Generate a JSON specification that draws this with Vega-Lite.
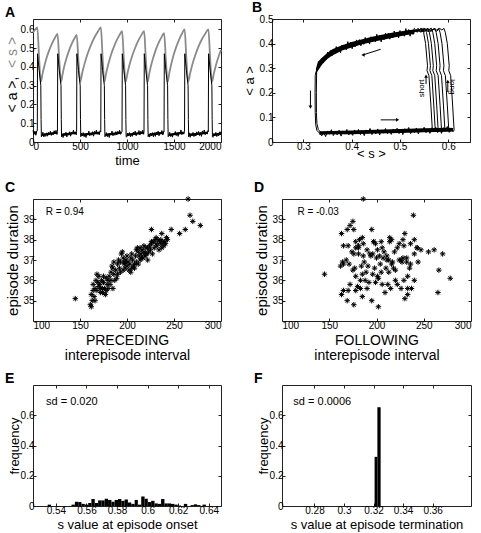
{
"$schema": "https://vega.github.io/schema/vega-lite/v6.json",
"padding": {"left": 4, "top": 0, "right": 4, "bottom": 4},
"background": "white",
"config": {
 "font": "Liberation Sans",
 "view": {"stroke": "#222", "strokeWidth": 1},
 "axis": {"domain": false, "grid": false, "ticks": true, "tickSize": -3, "tickColor": "#222", "tickWidth": 1, "labelFontSize": 10, "labelColor": "black", "labelPadding": 2, "titleFontSize": 13, "titleFontWeight": "normal", "titleColor": "black", "titlePadding": 3},
 "title": {"fontSize": 14, "fontWeight": "bold", "anchor": "start", "frame": "group", "dx": -28, "dy": 5, "offset": 0, "baseline": "alphabetic", "color": "black"}
},
"datasets": {
 "As": [{"t":0,"v":0.583},{"t":23,"v":0.598},{"t":46,"v":0.61},{"t":64,"v":0.455},{"t":83,"v":0.32},{"t":101,"v":0.363},{"t":119,"v":0.401},{"t":145,"v":0.449},{"t":172,"v":0.488},{"t":208,"v":0.53},{"t":234,"v":0.555},{"t":261,"v":0.575},{"t":279,"v":0.437},{"t":298,"v":0.32},{"t":315,"v":0.362},{"t":331,"v":0.4},{"t":357,"v":0.447},{"t":382,"v":0.485},{"t":415,"v":0.526},{"t":440,"v":0.551},{"t":465,"v":0.57},{"t":483,"v":0.435},{"t":502,"v":0.32},{"t":524,"v":0.369},{"t":546,"v":0.412},{"t":579,"v":0.467},{"t":612,"v":0.511},{"t":656,"v":0.559},{"t":689,"v":0.587},{"t":722,"v":0.61},{"t":740,"v":0.455},{"t":759,"v":0.32},{"t":778,"v":0.366},{"t":797,"v":0.406},{"t":825,"v":0.457},{"t":854,"v":0.498},{"t":891,"v":0.542},{"t":920,"v":0.569},{"t":948,"v":0.59},{"t":966,"v":0.445},{"t":985,"v":0.32},{"t":1005,"v":0.366},{"t":1024,"v":0.406},{"t":1054,"v":0.457},{"t":1084,"v":0.498},{"t":1123,"v":0.542},{"t":1152,"v":0.569},{"t":1182,"v":0.59},{"t":1200,"v":0.445},{"t":1219,"v":0.32},{"t":1237,"v":0.364},{"t":1254,"v":0.403},{"t":1281,"v":0.452},{"t":1307,"v":0.492},{"t":1342,"v":0.534},{"t":1369,"v":0.56},{"t":1395,"v":0.58},{"t":1413,"v":0.44},{"t":1432,"v":0.32},{"t":1450,"v":0.367},{"t":1468,"v":0.409},{"t":1495,"v":0.462},{"t":1523,"v":0.505},{"t":1559,"v":0.551},{"t":1586,"v":0.578},{"t":1613,"v":0.6},{"t":1631,"v":0.45},{"t":1650,"v":0.32},{"t":1672,"v":0.367},{"t":1693,"v":0.409},{"t":1726,"v":0.462},{"t":1758,"v":0.505},{"t":1801,"v":0.551},{"t":1834,"v":0.578},{"t":1866,"v":0.6},{"t":1884,"v":0.45},{"t":1903,"v":0.32},{"t":1925,"v":0.367},{"t":1946,"v":0.409},{"t":1979,"v":0.462},{"t":2000,"v":0.49}],
 "Ab": [{"t":0,"lo":0.044,"hi":0.056,"p":0},{"t":40,"lo":0.044,"hi":0.056,"p":0},{"t":95,"lo":0.032,"hi":0.044,"p":1},{"t":255,"lo":0.044,"hi":0.056,"p":1},{"t":310,"lo":0.032,"hi":0.044,"p":2},{"t":460,"lo":0.044,"hi":0.056,"p":2},{"t":514,"lo":0.032,"hi":0.044,"p":3},{"t":714,"lo":0.044,"hi":0.056,"p":3},{"t":771,"lo":0.032,"hi":0.044,"p":4},{"t":941,"lo":0.044,"hi":0.056,"p":4},{"t":997,"lo":0.032,"hi":0.044,"p":5},{"t":1177,"lo":0.044,"hi":0.056,"p":5},{"t":1231,"lo":0.032,"hi":0.044,"p":6},{"t":1391,"lo":0.044,"hi":0.056,"p":6},{"t":1444,"lo":0.032,"hi":0.044,"p":7},{"t":1604,"lo":0.044,"hi":0.056,"p":7},{"t":1662,"lo":0.032,"hi":0.044,"p":8},{"t":1862,"lo":0.044,"hi":0.056,"p":8},{"t":1915,"lo":0.032,"hi":0.044,"p":9},{"t":2000,"lo":0.038,"hi":0.05,"p":9}],
 "Aa": [{"t":0,"v":0.062},{"t":10,"v":0.040},{"t":20,"v":0.056},{"t":30,"v":0.036},{"t":40,"v":0.059},
 {"t":46,"v":0.06},{"t":48,"v":0.47},{"t":66,"v":0.38},{"t":83,"v":0.30},{"t":86,"v":0.12},{"t":89,"v":0.028},
 {"t":95,"v":0.034},{"t":105,"v":0.052},{"t":115,"v":0.027},{"t":125,"v":0.041},{"t":135,"v":0.030},{"t":145,"v":0.049},{"t":155,"v":0.031},{"t":165,"v":0.051},{"t":175,"v":0.038},{"t":185,"v":0.057},{"t":195,"v":0.035},{"t":205,"v":0.046},{"t":215,"v":0.038},{"t":225,"v":0.060},{"t":235,"v":0.045},{"t":245,"v":0.062},{"t":255,"v":0.040},
 {"t":260,"v":0.055},{"t":263,"v":0.47},{"t":280,"v":0.38},{"t":298,"v":0.30},{"t":301,"v":0.12},{"t":304,"v":0.028},
 {"t":310,"v":0.044},{"t":320,"v":0.024},{"t":330,"v":0.047},{"t":340,"v":0.034},{"t":350,"v":0.052},{"t":360,"v":0.027},{"t":370,"v":0.047},{"t":380,"v":0.036},{"t":390,"v":0.055},{"t":400,"v":0.031},{"t":410,"v":0.051},{"t":420,"v":0.044},{"t":430,"v":0.063},{"t":440,"v":0.041},{"t":450,"v":0.052},{"t":460,"v":0.038},
 {"t":464,"v":0.055},{"t":467,"v":0.47},{"t":484,"v":0.38},{"t":502,"v":0.30},{"t":505,"v":0.12},{"t":508,"v":0.028},
 {"t":514,"v":0.048},{"t":524,"v":0.033},{"t":534,"v":0.050},{"t":544,"v":0.028},{"t":554,"v":0.044},{"t":564,"v":0.024},{"t":574,"v":0.047},{"t":584,"v":0.040},{"t":594,"v":0.058},{"t":604,"v":0.033},{"t":614,"v":0.047},{"t":624,"v":0.036},{"t":634,"v":0.055},{"t":644,"v":0.031},{"t":654,"v":0.057},{"t":664,"v":0.044},{"t":674,"v":0.063},{"t":684,"v":0.041},{"t":694,"v":0.052},{"t":704,"v":0.038},{"t":714,"v":0.060},
 {"t":721,"v":0.055},{"t":724,"v":0.47},{"t":741,"v":0.38},{"t":759,"v":0.30},{"t":762,"v":0.12},{"t":765,"v":0.028},
 {"t":771,"v":0.033},{"t":781,"v":0.050},{"t":791,"v":0.028},{"t":801,"v":0.044},{"t":811,"v":0.024},{"t":821,"v":0.047},{"t":831,"v":0.040},{"t":841,"v":0.058},{"t":851,"v":0.033},{"t":861,"v":0.047},{"t":871,"v":0.036},{"t":881,"v":0.055},{"t":891,"v":0.037},{"t":901,"v":0.057},{"t":911,"v":0.044},{"t":921,"v":0.063},{"t":931,"v":0.041},{"t":941,"v":0.052},
 {"t":947,"v":0.055},{"t":950,"v":0.47},{"t":967,"v":0.38},{"t":985,"v":0.30},{"t":988,"v":0.12},{"t":991,"v":0.028},
 {"t":997,"v":0.026},{"t":1007,"v":0.048},{"t":1017,"v":0.033},{"t":1027,"v":0.050},{"t":1037,"v":0.028},{"t":1047,"v":0.044},{"t":1057,"v":0.030},{"t":1067,"v":0.053},{"t":1077,"v":0.040},{"t":1087,"v":0.058},{"t":1097,"v":0.033},{"t":1107,"v":0.047},{"t":1117,"v":0.042},{"t":1127,"v":0.061},{"t":1137,"v":0.037},{"t":1147,"v":0.057},{"t":1157,"v":0.044},{"t":1167,"v":0.063},{"t":1177,"v":0.041},
 {"t":1181,"v":0.055},{"t":1184,"v":0.47},{"t":1201,"v":0.38},{"t":1219,"v":0.30},{"t":1222,"v":0.12},{"t":1225,"v":0.028},
 {"t":1231,"v":0.040},{"t":1241,"v":0.026},{"t":1251,"v":0.048},{"t":1261,"v":0.033},{"t":1271,"v":0.050},{"t":1281,"v":0.028},{"t":1291,"v":0.050},{"t":1301,"v":0.030},{"t":1311,"v":0.053},{"t":1321,"v":0.040},{"t":1331,"v":0.058},{"t":1341,"v":0.033},{"t":1351,"v":0.053},{"t":1361,"v":0.042},{"t":1371,"v":0.061},{"t":1381,"v":0.037},{"t":1391,"v":0.057},
 {"t":1394,"v":0.055},{"t":1397,"v":0.47},{"t":1414,"v":0.38},{"t":1432,"v":0.30},{"t":1435,"v":0.12},{"t":1438,"v":0.028},
 {"t":1444,"v":0.032},{"t":1454,"v":0.051},{"t":1464,"v":0.029},{"t":1474,"v":0.040},{"t":1484,"v":0.026},{"t":1494,"v":0.048},{"t":1504,"v":0.039},{"t":1514,"v":0.056},{"t":1524,"v":0.034},{"t":1534,"v":0.050},{"t":1544,"v":0.030},{"t":1554,"v":0.053},{"t":1564,"v":0.046},{"t":1574,"v":0.064},{"t":1584,"v":0.039},{"t":1594,"v":0.053},{"t":1604,"v":0.042},
 {"t":1612,"v":0.055},{"t":1615,"v":0.47},{"t":1632,"v":0.38},{"t":1650,"v":0.30},{"t":1653,"v":0.12},{"t":1656,"v":0.028},
 {"t":1662,"v":0.049},{"t":1672,"v":0.025},{"t":1682,"v":0.045},{"t":1692,"v":0.032},{"t":1702,"v":0.051},{"t":1712,"v":0.029},{"t":1722,"v":0.040},{"t":1732,"v":0.032},{"t":1742,"v":0.054},{"t":1752,"v":0.039},{"t":1762,"v":0.056},{"t":1772,"v":0.034},{"t":1782,"v":0.050},{"t":1792,"v":0.030},{"t":1802,"v":0.059},{"t":1812,"v":0.046},{"t":1822,"v":0.064},{"t":1832,"v":0.039},{"t":1842,"v":0.053},{"t":1852,"v":0.042},{"t":1862,"v":0.061},
 {"t":1865,"v":0.055},{"t":1868,"v":0.47},{"t":1885,"v":0.38},{"t":1903,"v":0.30},{"t":1906,"v":0.12},{"t":1909,"v":0.028},
 {"t":1915,"v":0.025},{"t":1925,"v":0.045},{"t":1935,"v":0.032},{"t":1945,"v":0.051},{"t":1955,"v":0.029},{"t":1965,"v":0.046},{"t":1975,"v":0.032},{"t":1985,"v":0.054},{"t":1995,"v":0.039},{"t":2000,"v":0.056}],
 "Bb": [{"s":0.326,"lo":0.275,"hi":0.298,"g":"t"},{"s":0.33,"lo":0.29,"hi":0.326,"g":"t"},{"s":0.34,"lo":0.318,"hi":0.346,"g":"t"},{"s":0.35,"lo":0.338,"hi":0.363,"g":"t"},{"s":0.36,"lo":0.352,"hi":0.377,"g":"t"},{"s":0.38,"lo":0.372,"hi":0.393,"g":"t"},{"s":0.40,"lo":0.384,"hi":0.407,"g":"t"},{"s":0.42,"lo":0.396,"hi":0.417,"g":"t"},{"s":0.44,"lo":0.405,"hi":0.427,"g":"t"},{"s":0.46,"lo":0.414,"hi":0.435,"g":"t"},{"s":0.48,"lo":0.422,"hi":0.443,"g":"t"},{"s":0.50,"lo":0.43,"hi":0.449,"g":"t"},{"s":0.52,"lo":0.437,"hi":0.455,"g":"t"},{"s":0.53,"lo":0.44,"hi":0.457,"g":"t"},
  {"s":0.333,"lo":0.029,"hi":0.044,"g":"b"},{"s":0.36,"lo":0.031,"hi":0.045,"g":"b"},{"s":0.40,"lo":0.032,"hi":0.047,"g":"b"},{"s":0.45,"lo":0.035,"hi":0.050,"g":"b"},{"s":0.50,"lo":0.037,"hi":0.053,"g":"b"},{"s":0.55,"lo":0.040,"hi":0.056,"g":"b"},{"s":0.60,"lo":0.042,"hi":0.058,"g":"b"},{"s":0.61,"lo":0.043,"hi":0.057,"g":"b"}],
 "Bl": [
 {"s":0.530,"a":0.464,"g":"m"},{"s":0.527,"a":0.437,"g":"m"},{"s":0.524,"a":0.455,"g":"m"},{"s":0.521,"a":0.430,"g":"m"},{"s":0.518,"a":0.457,"g":"m"},{"s":0.515,"a":0.440,"g":"m"},{"s":0.512,"a":0.461,"g":"m"},{"s":0.509,"a":0.430,"g":"m"},{"s":0.506,"a":0.446,"g":"m"},{"s":0.503,"a":0.431,"g":"m"},{"s":0.500,"a":0.453,"g":"m"},{"s":0.497,"a":0.423,"g":"m"},{"s":0.494,"a":0.446,"g":"m"},{"s":0.491,"a":0.429,"g":"m"},{"s":0.488,"a":0.451,"g":"m"},{"s":0.485,"a":0.423,"g":"m"},{"s":0.482,"a":0.435,"g":"m"},{"s":0.479,"a":0.418,"g":"m"},{"s":0.476,"a":0.442,"g":"m"},{"s":0.473,"a":0.423,"g":"m"},{"s":0.470,"a":0.442,"g":"m"},{"s":0.467,"a":0.415,"g":"m"},{"s":0.464,"a":0.432,"g":"m"},{"s":0.461,"a":0.407,"g":"m"},{"s":0.458,"a":0.434,"g":"m"},{"s":0.455,"a":0.417,"g":"m"},{"s":0.452,"a":0.438,"g":"m"},{"s":0.449,"a":0.407,"g":"m"},{"s":0.446,"a":0.422,"g":"m"},{"s":0.443,"a":0.407,"g":"m"},{"s":0.440,"a":0.428,"g":"m"},{"s":0.437,"a":0.398,"g":"m"},{"s":0.434,"a":0.420,"g":"m"},{"s":0.431,"a":0.404,"g":"m"},{"s":0.428,"a":0.425,"g":"m"},{"s":0.425,"a":0.397,"g":"m"},{"s":0.422,"a":0.408,"g":"m"},{"s":0.419,"a":0.391,"g":"m"},{"s":0.416,"a":0.416,"g":"m"},{"s":0.413,"a":0.396,"g":"m"},{"s":0.410,"a":0.415,"g":"m"},{"s":0.407,"a":0.387,"g":"m"},{"s":0.404,"a":0.405,"g":"m"},{"s":0.401,"a":0.379,"g":"m"},{"s":0.398,"a":0.406,"g":"m"},{"s":0.395,"a":0.388,"g":"m"},{"s":0.392,"a":0.408,"g":"m"},{"s":0.389,"a":0.375,"g":"m"},{"s":0.386,"a":0.390,"g":"m"},{"s":0.383,"a":0.374,"g":"m"},{"s":0.380,"a":0.394,"g":"m"},{"s":0.377,"a":0.363,"g":"m"},{"s":0.374,"a":0.385,"g":"m"},{"s":0.371,"a":0.368,"g":"m"},{"s":0.368,"a":0.388,"g":"m"},{"s":0.365,"a":0.359,"g":"m"},{"s":0.362,"a":0.370,"g":"m"},{"s":0.359,"a":0.350,"g":"m"},{"s":0.356,"a":0.372,"g":"m"},{"s":0.353,"a":0.349,"g":"m"},{"s":0.350,"a":0.365,"g":"m"},{"s":0.347,"a":0.335,"g":"m"},{"s":0.344,"a":0.349,"g":"m"},{"s":0.341,"a":0.321,"g":"m"},{"s":0.338,"a":0.341,"g":"m"},{"s":0.335,"a":0.315,"g":"m"},{"s":0.332,"a":0.324,"g":"m"},{"s":0.329,"a":0.293,"g":"m"},{"s":0.326,"a":0.285,"g":"m"},
 {"s":0.3245,"a":0.27,"g":"m"},{"s":0.3242,"a":0.2,"g":"m"},{"s":0.3245,"a":0.12,"g":"m"},{"s":0.3255,"a":0.07,"g":"m"},{"s":0.328,"a":0.047,"g":"m"},
 {"s":0.334,"a":0.035,"g":"m"},{"s":0.338,"a":0.025,"g":"m"},{"s":0.342,"a":0.041,"g":"m"},{"s":0.346,"a":0.022,"g":"m"},{"s":0.350,"a":0.045,"g":"m"},{"s":0.354,"a":0.032,"g":"m"},{"s":0.358,"a":0.050,"g":"m"},{"s":0.362,"a":0.026,"g":"m"},{"s":0.366,"a":0.040,"g":"m"},{"s":0.370,"a":0.029,"g":"m"},{"s":0.374,"a":0.048,"g":"m"},{"s":0.378,"a":0.024,"g":"m"},{"s":0.382,"a":0.045,"g":"m"},{"s":0.386,"a":0.032,"g":"m"},{"s":0.390,"a":0.051,"g":"m"},{"s":0.394,"a":0.029,"g":"m"},{"s":0.398,"a":0.041,"g":"m"},{"s":0.402,"a":0.027,"g":"m"},{"s":0.406,"a":0.049,"g":"m"},{"s":0.410,"a":0.034,"g":"m"},{"s":0.414,"a":0.051,"g":"m"},{"s":0.418,"a":0.030,"g":"m"},{"s":0.422,"a":0.046,"g":"m"},{"s":0.426,"a":0.026,"g":"m"},{"s":0.430,"a":0.049,"g":"m"},{"s":0.434,"a":0.036,"g":"m"},{"s":0.438,"a":0.055,"g":"m"},{"s":0.442,"a":0.030,"g":"m"},{"s":0.446,"a":0.044,"g":"m"},{"s":0.450,"a":0.033,"g":"m"},{"s":0.454,"a":0.053,"g":"m"},{"s":0.458,"a":0.029,"g":"m"},{"s":0.462,"a":0.049,"g":"m"},{"s":0.466,"a":0.036,"g":"m"},{"s":0.470,"a":0.055,"g":"m"},{"s":0.474,"a":0.034,"g":"m"},{"s":0.478,"a":0.045,"g":"m"},{"s":0.482,"a":0.031,"g":"m"},{"s":0.486,"a":0.053,"g":"m"},{"s":0.490,"a":0.038,"g":"m"},{"s":0.494,"a":0.056,"g":"m"},{"s":0.498,"a":0.034,"g":"m"},{"s":0.502,"a":0.050,"g":"m"},{"s":0.506,"a":0.030,"g":"m"},{"s":0.510,"a":0.054,"g":"m"},{"s":0.514,"a":0.041,"g":"m"},{"s":0.518,"a":0.059,"g":"m"},{"s":0.522,"a":0.034,"g":"m"},{"s":0.526,"a":0.048,"g":"m"},{"s":0.530,"a":0.038,"g":"m"},{"s":0.534,"a":0.057,"g":"m"},{"s":0.538,"a":0.033,"g":"m"},{"s":0.542,"a":0.053,"g":"m"},{"s":0.546,"a":0.041,"g":"m"},{"s":0.550,"a":0.060,"g":"m"},{"s":0.554,"a":0.038,"g":"m"},{"s":0.558,"a":0.049,"g":"m"},{"s":0.562,"a":0.035,"g":"m"},{"s":0.566,"a":0.058,"g":"m"},{"s":0.570,"a":0.043,"g":"m"},{"s":0.574,"a":0.060,"g":"m"},{"s":0.578,"a":0.038,"g":"m"},{"s":0.582,"a":0.055,"g":"m"},{"s":0.586,"a":0.035,"g":"m"},{"s":0.590,"a":0.058,"g":"m"},{"s":0.594,"a":0.045,"g":"m"},{"s":0.598,"a":0.063,"g":"m"},{"s":0.602,"a":0.039,"g":"m"},{"s":0.606,"a":0.053,"g":"m"},{"s":0.610,"a":0.042,"g":"m"},{"s":0.6125,"a":0.05,"g":"m"},
 {"s":0.3275,"a":0.295,"g":"d"},{"s":0.3268,"a":0.2,"g":"d"},{"s":0.327,"a":0.12,"g":"d"},{"s":0.328,"a":0.075,"g":"d"},{"s":0.331,"a":0.05,"g":"d"},{"s":0.337,"a":0.038,"g":"d"},
 {"s":0.567,"a":0.05,"g":"o1"},{"s":0.564,"a":0.15,"g":"o1"},{"s":0.560,"a":0.27,"g":"o1"},{"s":0.556,"a":0.29,"g":"o1"},{"s":0.557,"a":0.31,"g":"o1"},{"s":0.553,"a":0.40,"g":"o1"},{"s":0.549,"a":0.445,"g":"o1"},{"s":0.546,"a":0.462,"g":"o1"},{"s":0.542,"a":0.455,"g":"o1"},{"s":0.537,"a":0.462,"g":"o1"},{"s":0.531,"a":0.45,"g":"o1"},{"s":0.528,"a":0.455,"g":"o1"},
 {"s":0.573,"a":0.05,"g":"o2"},{"s":0.570,"a":0.15,"g":"o2"},{"s":0.566,"a":0.27,"g":"o2"},{"s":0.562,"a":0.29,"g":"o2"},{"s":0.563,"a":0.31,"g":"o2"},{"s":0.559,"a":0.40,"g":"o2"},{"s":0.555,"a":0.445,"g":"o2"},{"s":0.552,"a":0.462,"g":"o2"},{"s":0.548,"a":0.455,"g":"o2"},{"s":0.543,"a":0.462,"g":"o2"},{"s":0.537,"a":0.45,"g":"o2"},{"s":0.532,"a":0.457,"g":"o2"},{"s":0.528,"a":0.447,"g":"o2"},
 {"s":0.579,"a":0.05,"g":"o3"},{"s":0.576,"a":0.15,"g":"o3"},{"s":0.572,"a":0.27,"g":"o3"},{"s":0.568,"a":0.29,"g":"o3"},{"s":0.569,"a":0.31,"g":"o3"},{"s":0.565,"a":0.40,"g":"o3"},{"s":0.561,"a":0.445,"g":"o3"},{"s":0.558,"a":0.462,"g":"o3"},{"s":0.554,"a":0.455,"g":"o3"},{"s":0.549,"a":0.462,"g":"o3"},{"s":0.543,"a":0.45,"g":"o3"},{"s":0.537,"a":0.458,"g":"o3"},{"s":0.531,"a":0.446,"g":"o3"},
 {"s":0.586,"a":0.05,"g":"o4"},{"s":0.583,"a":0.15,"g":"o4"},{"s":0.579,"a":0.27,"g":"o4"},{"s":0.575,"a":0.29,"g":"o4"},{"s":0.576,"a":0.31,"g":"o4"},{"s":0.572,"a":0.40,"g":"o4"},{"s":0.568,"a":0.445,"g":"o4"},{"s":0.565,"a":0.462,"g":"o4"},{"s":0.561,"a":0.455,"g":"o4"},{"s":0.556,"a":0.462,"g":"o4"},{"s":0.550,"a":0.45,"g":"o4"},{"s":0.543,"a":0.46,"g":"o4"},{"s":0.536,"a":0.447,"g":"o4"},{"s":0.530,"a":0.455,"g":"o4"},
 {"s":0.593,"a":0.05,"g":"o5"},{"s":0.590,"a":0.15,"g":"o5"},{"s":0.586,"a":0.27,"g":"o5"},{"s":0.582,"a":0.29,"g":"o5"},{"s":0.583,"a":0.31,"g":"o5"},{"s":0.579,"a":0.40,"g":"o5"},{"s":0.575,"a":0.445,"g":"o5"},{"s":0.572,"a":0.462,"g":"o5"},{"s":0.568,"a":0.455,"g":"o5"},{"s":0.563,"a":0.462,"g":"o5"},{"s":0.557,"a":0.45,"g":"o5"},{"s":0.550,"a":0.46,"g":"o5"},{"s":0.543,"a":0.447,"g":"o5"},{"s":0.535,"a":0.455,"g":"o5"},{"s":0.529,"a":0.448,"g":"o5"},
 {"s":0.601,"a":0.05,"g":"o6"},{"s":0.598,"a":0.15,"g":"o6"},{"s":0.594,"a":0.27,"g":"o6"},{"s":0.590,"a":0.29,"g":"o6"},{"s":0.591,"a":0.31,"g":"o6"},{"s":0.587,"a":0.40,"g":"o6"},{"s":0.583,"a":0.445,"g":"o6"},{"s":0.580,"a":0.462,"g":"o6"},{"s":0.576,"a":0.455,"g":"o6"},{"s":0.571,"a":0.462,"g":"o6"},{"s":0.565,"a":0.45,"g":"o6"},{"s":0.558,"a":0.46,"g":"o6"},{"s":0.550,"a":0.447,"g":"o6"},{"s":0.542,"a":0.457,"g":"o6"},{"s":0.534,"a":0.448,"g":"o6"},
 {"s":0.612,"a":0.05,"g":"o7"},{"s":0.609,"a":0.15,"g":"o7"},{"s":0.605,"a":0.27,"g":"o7"},{"s":0.601,"a":0.29,"g":"o7"},{"s":0.602,"a":0.31,"g":"o7"},{"s":0.598,"a":0.40,"g":"o7"},{"s":0.594,"a":0.445,"g":"o7"},{"s":0.591,"a":0.462,"g":"o7"},{"s":0.587,"a":0.455,"g":"o7"},{"s":0.582,"a":0.462,"g":"o7"},{"s":0.576,"a":0.45,"g":"o7"},{"s":0.569,"a":0.46,"g":"o7"},{"s":0.561,"a":0.447,"g":"o7"},{"s":0.553,"a":0.457,"g":"o7"},{"s":0.545,"a":0.448,"g":"o7"},{"s":0.537,"a":0.456,"g":"o7"},{"s":0.530,"a":0.449,"g":"o7"}],
 "Bar": [{"s1":0.460,"a1":0.377,"s2":0.4235,"a2":0.354},{"s1":0.3146,"a1":0.209,"s2":0.3146,"a2":0.142},{"s1":0.460,"a1":0.09,"s2":0.495,"a2":0.09},{"s1":0.554,"a1":0.236,"s2":0.554,"a2":0.268},{"s1":0.599,"a1":0.203,"s2":0.599,"a2":0.246}],
 "Bh": [{"s":0.4235,"a":0.354,"h":"L"},{"s":0.3146,"a":0.142,"h":"D"},{"s":0.495,"a":0.09,"h":"R"},{"s":0.554,"a":0.268,"h":"U"},{"s":0.599,"a":0.246,"h":"U"}],
 "Bt": [{"s":0.545,"a":0.218,"t":"short","ang":270},{"s":0.607,"a":0.224,"t":"long","ang":90}],
 "CD": [{"p":145,"f":230,"d":35.1},{"p":265,"f":186,"d":40.0},{"p":267,"f":239,"d":39.2},{"p":270,"f":175,"d":38.9},{"p":278,"f":172,"d":38.7},{"p":262,"f":169,"d":38.5},{"p":256,"f":163,"d":38.3},{"p":247,"f":176,"d":38.5},{"p":237,"f":230,"d":38.3},{"p":226,"f":195,"d":38.5},{"p":242,"f":185,"d":38.1},{"p":240,"f":197,"d":37.9},{"p":161,"f":176,"d":34.8},{"p":162,"f":202,"d":34.7},{"p":163,"f":169,"d":35.0},{"p":162,"f":163,"d":35.3},{"p":164,"f":165,"d":35.5},{"p":165,"f":185,"d":35.2},{"p":166,"f":215,"d":35.6},{"p":167,"f":240,"d":36.0},{"p":168,"f":145,"d":36.3},{"p":168,"f":178,"d":35.5},{"p":170,"f":180,"d":35.7},{"p":171,"f":222,"d":35.8},{"p":172,"f":237,"d":35.6},{"p":173,"f":188,"d":36.0},{"p":174,"f":265,"d":35.4},{"p":175,"f":199,"d":35.9},{"p":176,"f":226,"d":35.6},{"p":177,"f":233,"d":35.3},{"p":178,"f":170,"d":35.5},{"p":179,"f":206,"d":35.8},{"p":175,"f":233,"d":36.2},{"p":172,"f":209,"d":35.4},{"p":169,"f":192,"d":35.9},{"p":166,"f":195,"d":35.0},{"p":180,"f":183,"d":36.0},{"p":182,"f":212,"d":35.8},{"p":178,"f":278,"d":36.1},{"p":181,"f":178,"d":36.2},{"p":183,"f":205,"d":36.4},{"p":184,"f":162,"d":36.7},{"p":185,"f":218,"d":36.6},{"p":186,"f":196,"d":36.3},{"p":187,"f":229,"d":36.0},{"p":185,"f":190,"d":35.6},{"p":188,"f":266,"d":36.5},{"p":189,"f":202,"d":36.1},{"p":190,"f":185,"d":36.3},{"p":190,"f":165,"d":36.8},{"p":192,"f":210,"d":36.6},{"p":193,"f":227,"d":36.9},{"p":194,"f":181,"d":37.3},{"p":195,"f":255,"d":37.4},{"p":196,"f":200,"d":37.1},{"p":197,"f":236,"d":36.8},{"p":198,"f":177,"d":36.6},{"p":199,"f":213,"d":37.0},{"p":200,"f":191,"d":36.7},{"p":201,"f":244,"d":36.9},{"p":202,"f":220,"d":36.5},{"p":203,"f":171,"d":36.8},{"p":204,"f":207,"d":37.1},{"p":205,"f":198,"d":36.6},{"p":206,"f":224,"d":37.0},{"p":207,"f":184,"d":36.7},{"p":208,"f":216,"d":36.8},{"p":209,"f":194,"d":37.2},{"p":210,"f":232,"d":36.9},{"p":210,"f":261,"d":37.5},{"p":211,"f":178,"d":37.6},{"p":212,"f":219,"d":37.4},{"p":213,"f":203,"d":37.2},{"p":214,"f":168,"d":37.0},{"p":215,"f":240,"d":37.3},{"p":216,"f":190,"d":37.5},{"p":217,"f":228,"d":37.1},{"p":218,"f":208,"d":37.4},{"p":219,"f":186,"d":37.2},{"p":220,"f":243,"d":37.6},{"p":221,"f":270,"d":37.3},{"p":222,"f":211,"d":37.0},{"p":223,"f":174,"d":37.4},{"p":224,"f":229,"d":37.7},{"p":225,"f":201,"d":37.5},{"p":226,"f":224,"d":37.8},{"p":227,"f":193,"d":37.3},{"p":228,"f":214,"d":37.9},{"p":229,"f":181,"d":37.6},{"p":230,"f":240,"d":38.0},{"p":231,"f":236,"d":37.8},{"p":232,"f":170,"d":37.7},{"p":233,"f":216,"d":38.0},{"p":234,"f":247,"d":37.5},{"p":235,"f":178,"d":37.9},{"p":236,"f":186,"d":37.8},{"p":237,"f":222,"d":37.6},{"p":238,"f":205,"d":37.9},{"p":239,"f":165,"d":37.7},{"p":241,"f":199,"d":37.8},{"p":243,"f":182,"d":38.0},{"p":212,"f":204,"d":36.8},{"p":208,"f":235,"d":36.6},{"p":196,"f":175,"d":36.5},{"p":200,"f":211,"d":37.2},{"p":205,"f":196,"d":37.3},{"p":183,"f":220,"d":36.0},{"p":186,"f":187,"d":36.9},{"p":191,"f":226,"d":37.0},{"p":198,"f":164,"d":36.9},{"p":204,"f":213,"d":36.4},{"p":214,"f":206,"d":37.6},{"p":218,"f":181,"d":37.7},{"p":222,"f":243,"d":37.6},{"p":226,"f":197,"d":37.9},{"p":231,"f":214,"d":38.1},{"p":236,"f":228,"d":38.0},{"p":164,"f":172,"d":35.8},{"p":170,"f":201,"d":36.2},{"p":174,"f":183,"d":35.6},{"p":180,"f":233,"d":35.6},{"p":193,"f":189,"d":36.4},{"p":215,"f":232,"d":37.1},{"p":220,"f":176,"d":37.3},{"p":197,"f":217,"d":36.9}],
 "E": [{"lo":0.5346,"hi":0.5368,"f":0.009},{"lo":0.5502,"hi":0.5524,"f":0.009},{"lo":0.5524,"hi":0.5546,"f":0.028},{"lo":0.5546,"hi":0.5567,"f":0.026},{"lo":0.5567,"hi":0.5589,"f":0.014},{"lo":0.5589,"hi":0.5611,"f":0.009},{"lo":0.5611,"hi":0.5632,"f":0.020},{"lo":0.5632,"hi":0.5654,"f":0.046},{"lo":0.5654,"hi":0.5676,"f":0.020},{"lo":0.5676,"hi":0.5697,"f":0.037},{"lo":0.5697,"hi":0.5719,"f":0.037},{"lo":0.5719,"hi":0.5741,"f":0.048},{"lo":0.5741,"hi":0.5763,"f":0.040},{"lo":0.5763,"hi":0.5784,"f":0.028},{"lo":0.5784,"hi":0.5806,"f":0.040},{"lo":0.5806,"hi":0.5828,"f":0.046},{"lo":0.5828,"hi":0.5849,"f":0.034},{"lo":0.5849,"hi":0.5871,"f":0.043},{"lo":0.5871,"hi":0.5893,"f":0.023},{"lo":0.5893,"hi":0.5915,"f":0.014},{"lo":0.5915,"hi":0.5936,"f":0.040},{"lo":0.5936,"hi":0.5958,"f":0.009},{"lo":0.5958,"hi":0.5980,"f":0.063},{"lo":0.5980,"hi":0.6001,"f":0.048},{"lo":0.6001,"hi":0.6023,"f":0.026},{"lo":0.6023,"hi":0.6045,"f":0.034},{"lo":0.6045,"hi":0.6067,"f":0.017},{"lo":0.6067,"hi":0.6088,"f":0.014},{"lo":0.6088,"hi":0.6110,"f":0.046},{"lo":0.6110,"hi":0.6132,"f":0.017},{"lo":0.6132,"hi":0.6153,"f":0.017},{"lo":0.6153,"hi":0.6175,"f":0.014},{"lo":0.6175,"hi":0.6197,"f":0.009},{"lo":0.6197,"hi":0.6219,"f":0.003},{"lo":0.6237,"hi":0.6259,"f":0.014},{"lo":0.6281,"hi":0.6302,"f":0.006},{"lo":0.6302,"hi":0.6324,"f":0.011},{"lo":0.6324,"hi":0.6346,"f":0.006},{"lo":0.6359,"hi":0.6381,"f":0.009}],
 "F": [{"lo":0.3207,"hi":0.3226,"f":0.325},{"lo":0.3226,"hi":0.3248,"f":0.653}]
},
"spacing": 8,
"vconcat": [
 {"hconcat": [
  {"width": 188, "height": 123, "title": {"text": "A"},
   "layer": [
    {"data": {"name": "As"}, "mark": {"type": "line", "color": "#8a8a8a", "strokeWidth": 1.8, "interpolate": "monotone"},
     "encoding": {
      "x": {"field": "t", "type": "quantitative", "scale": {"domain": [0, 2000], "nice": false}, "axis": {"values": [0, 500, 1000, 1500, 2000], "format": "d", "title": ["time", " "], "titleLineHeight": 4.5}},
      "y": {"field": "v", "type": "quantitative", "scale": {"domain": [0, 0.655], "nice": false}, "axis": {"values": [0, 0.1, 0.2, 0.3, 0.4, 0.5, 0.6], "format": "~g", "title": "< a >,", "titleFontSize": 14, "titleX": -17, "titleY": 75, "titleBaseline": "alphabetic"}}}},
    {"data": {"name": "Ab"}, "mark": {"type": "area", "color": "black", "opacity": 1},
     "encoding": {
      "x": {"field": "t", "type": "quantitative", "axis": null},
      "y": {"field": "lo", "type": "quantitative", "axis": null},
      "y2": {"field": "hi"},
      "detail": {"field": "p"}}},
    {"data": {"name": "Aa"}, "mark": {"type": "line", "color": "black", "strokeWidth": 1},
     "encoding": {
      "x": {"field": "t", "type": "quantitative", "scale": {"domain": [0, 2000], "nice": false}, "axis": {"orient": "top", "labels": false, "title": null, "values": [0, 500, 1000, 1500, 2000]}},
      "y": {"field": "v", "type": "quantitative", "scale": {"domain": [0, 0.655], "nice": false}, "axis": {"orient": "left", "labels": false, "ticks": false, "title": "< s >", "titleFontSize": 14, "titleColor": "#8a8a8a", "titleX": -17, "titleY": 33, "titleBaseline": "alphabetic"}}}},
    {"data": {"values": [{"t": 0, "v": 0}]}, "mark": {"type": "text", "text": ""},
     "encoding": {
      "x": {"field": "t", "type": "quantitative", "axis": null},
      "y": {"field": "v", "type": "quantitative", "axis": {"orient": "right", "labels": false, "title": null, "values": [0, 0.1, 0.2, 0.3, 0.4, 0.5, 0.6]}}}}
   ],
   "resolve": {"axis": {"x": "independent", "y": "independent"}}},
  {"width": 198, "height": 123, "title": {"text": "B", "dx": -20},
   "layer": [
    {"data": {"name": "Bb"}, "mark": {"type": "area", "color": "black", "opacity": 1},
     "encoding": {
      "x": {"field": "s", "type": "quantitative", "scale": {"domain": [0.235, 0.645], "nice": false, "zero": false}, "axis": {"values": [0.3, 0.4, 0.5, 0.6], "format": "~g", "title": "< s >", "titlePadding": -4}},
      "y": {"field": "lo", "type": "quantitative", "scale": {"domain": [0, 0.5], "nice": false}, "axis": {"values": [0, 0.1, 0.2, 0.3, 0.4, 0.5], "format": "~g", "title": "< a >"}},
      "y2": {"field": "hi"},
      "detail": {"field": "g"}}},
    {"data": {"name": "Bl"}, "mark": {"type": "line", "color": "black", "strokeWidth": 1},
     "encoding": {
      "x": {"field": "s", "type": "quantitative", "axis": null},
      "y": {"field": "a", "type": "quantitative", "axis": null},
      "detail": {"field": "g"},
      "order": {"value": null}}},
    {"data": {"name": "Bar"}, "mark": {"type": "rule", "color": "black", "strokeWidth": 1},
     "encoding": {
      "x": {"field": "s1", "type": "quantitative", "axis": {"orient": "top", "labels": false, "title": null, "values": [0.3, 0.4, 0.5, 0.6]}},
      "x2": {"field": "s2"},
      "y": {"field": "a1", "type": "quantitative", "axis": {"orient": "right", "labels": false, "title": null, "values": [0, 0.1, 0.2, 0.3, 0.4, 0.5]}},
      "y2": {"field": "a2"}}},
    {"data": {"name": "Bh"}, "mark": {"type": "point", "filled": true, "color": "black", "size": 14, "opacity": 1},
     "encoding": {
      "x": {"field": "s", "type": "quantitative", "axis": null},
      "y": {"field": "a", "type": "quantitative", "axis": null},
      "shape": {"field": "h", "type": "nominal", "scale": {"domain": ["L", "D", "R", "U"], "range": ["triangle-left", "triangle-down", "triangle-right", "triangle-up"]}, "legend": null}}},
    {"data": {"name": "Bt"}, "mark": {"type": "text", "fontSize": 8, "color": "black", "align": "center", "baseline": "middle"},
     "encoding": {
      "x": {"field": "s", "type": "quantitative", "axis": null},
      "y": {"field": "a", "type": "quantitative", "axis": null},
      "text": {"field": "t"},
      "angle": {"field": "ang", "type": "quantitative", "scale": null}}}
   ],
   "resolve": {"axis": {"x": "independent", "y": "independent"}}}
 ], "spacing": 51, "bounds": "flush"},
 {"hconcat": [
  {"width": 188, "height": 122, "title": {"text": "C"},
   "layer": [
    {"data": {"name": "CD"}, "mark": {"type": "point", "shape": "M-1,0L1,0M0,-1L0,1M-0.7,-0.7L0.7,0.7M-0.7,0.7L0.7,-0.7", "filled": false, "color": "black", "size": 30, "strokeWidth": 1, "opacity": 1},
     "encoding": {
      "x": {"field": "p", "type": "quantitative", "scale": {"domain": [100, 300], "nice": false}, "axis": {"values": [100, 150, 200, 250, 300], "title": ["PRECEDING", "interepisode interval"], "titleLineHeight": 15, "titleFontSize": 14}},
      "y": {"field": "d", "type": "quantitative", "scale": {"domain": [34, 40], "nice": false, "zero": false}, "axis": {"values": [35, 36, 37, 38, 39], "title": "episode duration", "titleFontSize": 15, "titleX": -16, "titleBaseline": "alphabetic"}}}},
    {"data": {"values": [{"x": 113.5, "y": 39.35, "label": "R = 0.94"}]}, "mark": {"type": "text", "align": "left", "baseline": "middle", "fontSize": 10, "color": "black"},
     "encoding": {
      "x": {"field": "x", "type": "quantitative", "axis": {"orient": "top", "labels": false, "title": null, "values": [100, 150, 200, 250, 300]}},
      "y": {"field": "y", "type": "quantitative", "axis": {"orient": "right", "labels": false, "title": null, "values": [35, 36, 37, 38, 39]}},
      "text": {"field": "label"}}}
   ],
   "resolve": {"axis": {"x": "independent", "y": "independent"}}},
  {"width": 189, "height": 122, "title": {"text": "D"},
   "layer": [
    {"data": {"name": "CD"}, "mark": {"type": "point", "shape": "M-1,0L1,0M0,-1L0,1M-0.7,-0.7L0.7,0.7M-0.7,0.7L0.7,-0.7", "filled": false, "color": "black", "size": 30, "strokeWidth": 1, "opacity": 1},
     "encoding": {
      "x": {"field": "f", "type": "quantitative", "scale": {"domain": [100, 300], "nice": false}, "axis": {"values": [100, 150, 200, 250, 300], "title": ["FOLLOWING", "interepisode interval"], "titleLineHeight": 15, "titleFontSize": 14}},
      "y": {"field": "d", "type": "quantitative", "scale": {"domain": [34, 40], "nice": false, "zero": false}, "axis": {"values": [35, 36, 37, 38, 39], "title": "episode duration", "titleFontSize": 15, "titleX": -16, "titleBaseline": "alphabetic"}}}},
    {"data": {"values": [{"x": 116.3, "y": 39.35, "label": "R = -0.03"}]}, "mark": {"type": "text", "align": "left", "baseline": "middle", "fontSize": 10, "color": "black"},
     "encoding": {
      "x": {"field": "x", "type": "quantitative", "axis": {"orient": "top", "labels": false, "title": null, "values": [100, 150, 200, 250, 300]}},
      "y": {"field": "y", "type": "quantitative", "axis": {"orient": "right", "labels": false, "title": null, "values": [35, 36, 37, 38, 39]}},
      "text": {"field": "label"}}}
   ],
   "resolve": {"axis": {"x": "independent", "y": "independent"}}}
 ], "spacing": 61, "bounds": "flush"},
 {"hconcat": [
  {"width": 188, "height": 121, "title": {"text": "E"},
   "layer": [
    {"data": {"name": "E"}, "mark": {"type": "rect", "color": "black"},
     "encoding": {
      "x": {"field": "lo", "type": "quantitative", "scale": {"domain": [0.525, 0.648], "nice": false, "zero": false}, "axis": {"values": [0.54, 0.56, 0.58, 0.6, 0.62, 0.64], "format": "~g", "title": "s value at episode onset"}},
      "x2": {"field": "hi"},
      "y": {"field": "f", "type": "quantitative", "scale": {"domain": [0, 0.8], "nice": false}, "axis": {"values": [0, 0.2, 0.4, 0.6], "format": "~g", "title": "frequency", "titleX": -15, "titleBaseline": "alphabetic"}},
      "y2": {"datum": 0}}},
    {"data": {"values": [{"x": 0.5335, "y": 0.69, "label": "sd = 0.020"}]}, "mark": {"type": "text", "align": "left", "baseline": "middle", "fontSize": 11, "color": "black"},
     "encoding": {
      "x": {"field": "x", "type": "quantitative", "axis": {"orient": "top", "labels": false, "title": null, "values": [0.54, 0.56, 0.58, 0.6, 0.62, 0.64]}},
      "y": {"field": "y", "type": "quantitative", "axis": {"orient": "right", "labels": false, "title": null, "values": [0, 0.2, 0.4, 0.6]}},
      "text": {"field": "label"}}}
   ],
   "resolve": {"axis": {"x": "independent", "y": "independent"}}},
  {"width": 189, "height": 121, "title": {"text": "F"},
   "layer": [
    {"data": {"name": "F"}, "mark": {"type": "rect", "color": "black"},
     "encoding": {
      "x": {"field": "lo", "type": "quantitative", "scale": {"domain": [0.258, 0.386], "nice": false, "zero": false}, "axis": {"values": [0.28, 0.3, 0.32, 0.34, 0.36], "format": "~g", "title": "s value at episode termination"}},
      "x2": {"field": "hi"},
      "y": {"field": "f", "type": "quantitative", "scale": {"domain": [0, 0.8], "nice": false}, "axis": {"values": [0, 0.2, 0.4, 0.6], "format": "~g", "title": "frequency", "titleX": -15, "titleBaseline": "alphabetic"}},
      "y2": {"datum": 0}}},
    {"data": {"values": [{"x": 0.2657, "y": 0.69, "label": "sd = 0.0006"}]}, "mark": {"type": "text", "align": "left", "baseline": "middle", "fontSize": 11, "color": "black"},
     "encoding": {
      "x": {"field": "x", "type": "quantitative", "axis": {"orient": "top", "labels": false, "title": null, "values": [0.28, 0.3, 0.32, 0.34, 0.36]}},
      "y": {"field": "y", "type": "quantitative", "axis": {"orient": "right", "labels": false, "title": null, "values": [0, 0.2, 0.4, 0.6]}},
      "text": {"field": "label"}}}
   ],
   "resolve": {"axis": {"x": "independent", "y": "independent"}}}
 ], "spacing": 61, "bounds": "flush"}
]
}
